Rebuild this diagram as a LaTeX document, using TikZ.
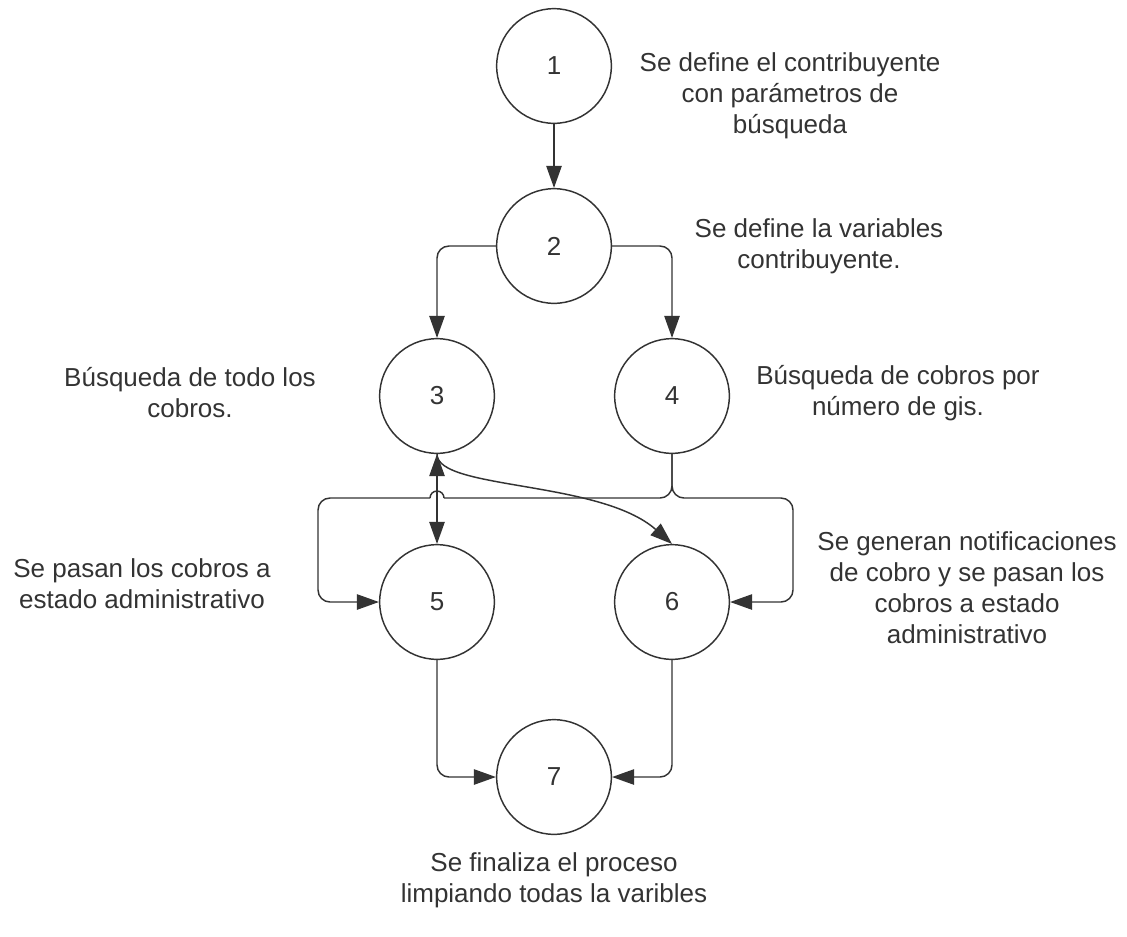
\documentclass[tikz,border=0pt]{standalone}
\usepackage{fontspec}
\setmainfont{Liberation Sans}
\usepackage{tikz}
\usetikzlibrary{arrows.meta}
\definecolor{ink}{HTML}{333333}

\begin{document}
\begin{tikzpicture}[x=0.75pt,y=-0.75pt,
  >={Triangle[length=16.5pt,width=11.5pt]},
  stage/.style={circle,draw=ink,line width=1.1pt,minimum size=86pt,
    inner sep=0pt,text=ink,font=\fontsize{19.5}{23.3}\selectfont},
  note/.style={align=center,text=ink,font=\fontsize{19.5}{23.3}\selectfont},
  wire/.style={draw=ink,line width=1.1pt,rounded corners=9pt},
  conn/.style={wire,->}]

\useasboundingbox (0,0) rectangle (1127,936);

% Stages
\foreach \n/\x/\y in {1/554/66,2/554/246,3/437/396,4/672/396,
                      5/437/602,6/672/602,7/554/777}
  \node[stage] (c\n) at (\x,\y) {\n};

% Descriptions
\node[note] (t1) at (790,96) {Se define el contribuyente\\con parámetros de\\búsqueda};
\node[note] (t2) at (819,246) {Se define la variables\\contribuyente.};
\node[note] (t3) at (190,393) {Búsqueda de todo los\\cobros.};
\node[note] (t4) at (898,393) {Búsqueda de cobros por\\número de gis.};
\node[note] (t5) at (142,584) {Se pasan los cobros a\\estado administrativo};
\node[note] (t6) at (967,588) {Se generan notificaciones\\de cobro y se pasan los\\cobros a estado\\administrativo};
\node[note] (t7) at (554,880) {Se finaliza el proceso\\limpiando todas la varibles};

% Flow
\draw[conn] (c1) -- (c2);
\draw[conn] (c2.west) -| (c3.north);
\draw[conn] (c2.east) -| (c4.north);
% branch from 4 to 5, hopping over the 3-5 line
\coordinate (hopR) at (444,498);
\coordinate (hopL) at (430,498);
\draw[wire] (c4.south) |- (hopR);
\draw[wire] (hopR) arc (0:-180:7);
\draw[conn] (hopL) -- (318,498) |- (c5.west);
\draw[conn] (c4.south) |- (793,498) |- (c6.east);
\draw[conn,<->] (c3.south) -- (c5.north);
\draw[conn] (c3.south) .. controls (437,490) and (600,480) .. (c6.north);
\draw[conn] (c5.south) |- (c7.west);
\draw[conn] (c6.south) |- (c7.east);

\end{tikzpicture}
\end{document}
